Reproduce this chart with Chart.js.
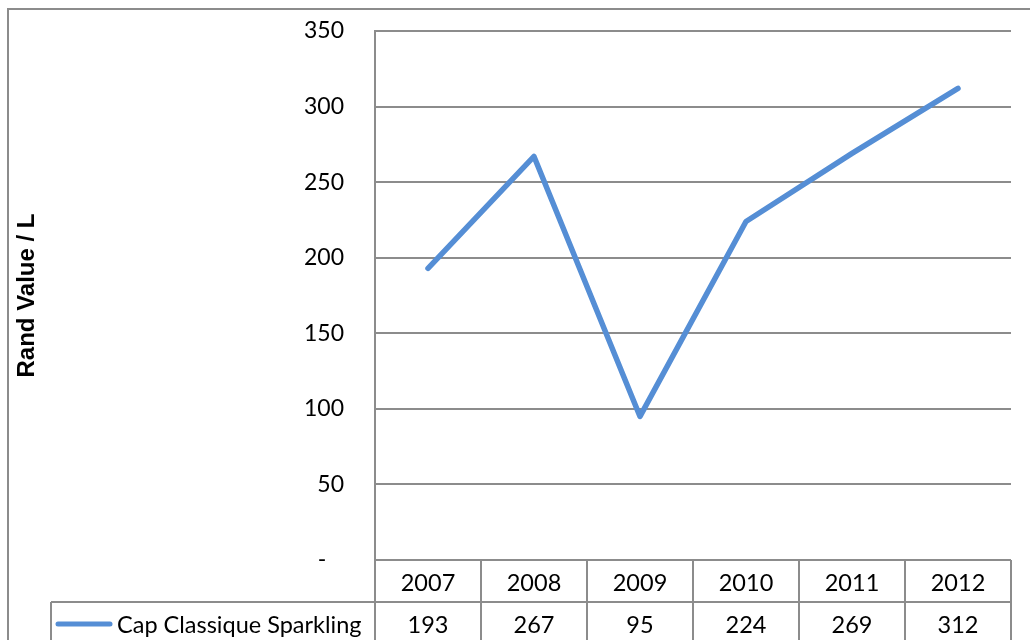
<!DOCTYPE html>
<html>
<head>
<meta charset="utf-8">
<script src="https://cdn.jsdelivr.net/npm/chart.js@4/dist/chart.umd.min.js"></script>
<style>
  html, body { margin: 0; padding: 0; background: #fff; }
  #wrap { width: 1030px; height: 640px; }
</style>
</head>
<body>
<div id="wrap"><canvas id="grafico"></canvas></div>
<script>
const anos = ["2007", "2008", "2009", "2010", "2011", "2012"];
const valores = [193, 267, 95, 224, 269, 312];
const nomeSerie = "Cap Classique Sparkling";
const tituloY = "Rand Value / L";

const corLinha = "#558ed5";
const corGrade = "#8c8c8c";
const fonteTexto = "Lato, 'Open Sans', sans-serif";

// desenha a moldura externa e a tabela de dados embaixo do gráfico
const tabelaPlugin = {
  id: "tabela",
  beforeDraw(chart) {
    const ctx = chart.ctx;
    ctx.save();
    ctx.fillStyle = "#fff";
    ctx.fillRect(0, 0, chart.width, chart.height);
    ctx.strokeStyle = corGrade;
    ctx.lineWidth = 2;
    ctx.strokeRect(8, 9, 1200, 1000);
    ctx.restore();
  },
  afterDraw(chart) {
    const ctx = chart.ctx;
    const x = chart.scales.x;
    const area = chart.chartArea;
    const larg = (area.right - area.left) / anos.length;
    const linha1 = area.bottom;
    const linha2 = area.bottom + 42;
    const legEsq = 51;

    ctx.save();
    ctx.strokeStyle = corGrade;
    ctx.lineWidth = 2;
    ctx.beginPath();
    ctx.moveTo(area.left, linha1);
    ctx.lineTo(area.right, linha1);
    ctx.moveTo(legEsq, linha2);
    ctx.lineTo(area.right, linha2);
    for (let i = 0; i <= anos.length; i++) {
      const px = area.left + i * larg;
      ctx.moveTo(px, linha1);
      ctx.lineTo(px, chart.height);
    }
    ctx.moveTo(legEsq, linha2);
    ctx.lineTo(legEsq, chart.height);
    ctx.stroke();

    ctx.fillStyle = "#000";
    ctx.font = "23.5px " + fonteTexto;
    ctx.textAlign = "center";
    ctx.textBaseline = "middle";
    anos.forEach((ano, i) => {
      const cx = x.getPixelForValue(i);
      ctx.fillText(ano, cx, linha1 + 23);
      ctx.fillText(String(valores[i]), cx, linha2 + 23);
    });

    // legenda dentro da tabela
    ctx.strokeStyle = corLinha;
    ctx.lineWidth = 5;
    ctx.lineCap = "round";
    ctx.beginPath();
    ctx.moveTo(58, linha2 + 22);
    ctx.lineTo(110, linha2 + 22);
    ctx.stroke();
    ctx.textAlign = "left";
    ctx.fillText(nomeSerie, 117, linha2 + 23);
    ctx.restore();
  }
};

new Chart(document.getElementById("grafico"), {
  type: "line",
  data: {
    labels: anos,
    datasets: [{
      label: nomeSerie,
      data: valores,
      borderColor: corLinha,
      borderWidth: 5.5,
      pointRadius: 0,
      borderCapStyle: "round",
      borderJoinStyle: "round",
      tension: 0
    }]
  },
  options: {
    responsive: true,
    maintainAspectRatio: false,
    animation: false,
    layout: { padding: { left: 0, top: 31, right: 19, bottom: 80 } },
    plugins: {
      legend: { display: false },
      tooltip: { enabled: false }
    },
    scales: {
      x: {
        type: "category",
        offset: true,
        display: false
      },
      y: {
        min: 0,
        max: 350,
        afterFit(scale) { scale.width = 375; },
        ticks: {
          stepSize: 50,
          padding: 3,
          color: "#000",
          font: { family: fonteTexto, size: 23 },
          callback: (v) => (v === 0 ? "-   " : v)
        },
        // marcas invisíveis só para afastar os rótulos do eixo
        grid: { color: corGrade, lineWidth: 2, drawTicks: true, tickLength: 28, tickColor: "rgba(0,0,0,0)" },
        border: { display: true, color: corGrade, width: 2 },
        title: {
          display: true,
          text: tituloY,
          color: "#000",
          font: { family: "'Liberation Sans', Arial, sans-serif", size: 24, weight: "bold" },
          padding: { top: 13, bottom: 0 }
        }
      }
    }
  },
  plugins: [tabelaPlugin]
});
</script>
</body>
</html>
